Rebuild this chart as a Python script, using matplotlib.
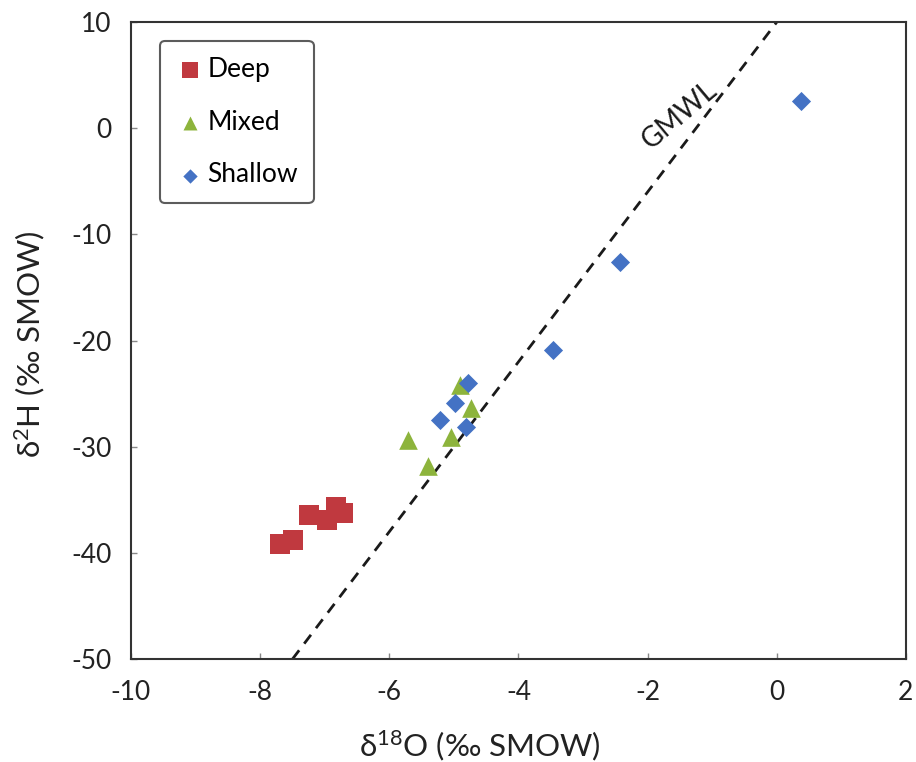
import matplotlib
matplotlib.use("Agg")
import matplotlib.pyplot as plt
import numpy as np

plt.rcParams['font.family'] = ['Lato', 'DejaVu Sans']
plt.rcParams['mathtext.fontset'] = 'custom'
plt.rcParams['mathtext.rm'] = 'Lato'
plt.rcParams['axes.unicode_minus'] = False

# Isotope data (per mil vs SMOW)
deep_o = [-7.69, -7.49, -7.24, -6.96, -6.82, -6.71]
deep_h = [-39.2, -38.8, -36.4, -36.9, -35.7, -36.2]

mixed_o = [-5.71, -5.40, -5.05, -4.90, -4.74]
mixed_h = [-29.4, -31.8, -29.1, -24.2, -26.3]

shallow_o = [-4.78, -4.98, -5.21, -4.82, -3.47, -2.42, 0.37]
shallow_h = [-24.0, -25.9, -27.5, -28.1, -20.9, -12.6, 2.6]

# Global Meteoric Water Line: d2H = 8 * d18O + 10
gmwl_slope = 8.0
gmwl_intercept = 10.0

x_ticks = [-10, -8, -6, -4, -2, 0, 2]
y_ticks = [-50, -40, -30, -20, -10, 0, 10]

fig = plt.figure(figsize=(9.16, 7.62), dpi=100)
ax = fig.add_axes([0.143, 0.135, 0.846, 0.836])

gx = np.array([-7.5, 0.0])
ax.plot(gx, gmwl_slope * gx + gmwl_intercept, color='#1a1a1a', lw=2.0,
        linestyle=(0, (4, 3)), zorder=2)

ax.scatter(deep_o, deep_h, marker='s', s=210, color='#c0393f', label='Deep',
           zorder=3, linewidths=0)
ax.scatter(mixed_o, mixed_h, marker='^', s=180, color='#8db43c', label='Mixed',
           zorder=3, linewidths=0)
ax.scatter(shallow_o, shallow_h, marker='D', s=95, color='#4472c4',
           label='Shallow', zorder=4, linewidths=0)

# Label along the GMWL
p1 = ax.transData.transform((0, 10))
p0 = ax.transData.transform((-7.5, -50))
ang = np.degrees(np.arctan2(p1[1] - p0[1], p1[0] - p0[0]))
ax.text(-1.5, 1.2, 'GMWL', rotation=ang, rotation_mode='anchor',
        ha='center', va='center', fontsize=20, color='#1a1a1a')

ax.set_xlim(-10, 2)
ax.set_ylim(-50, 10)
ax.set_xticks(x_ticks)
ax.set_yticks(y_ticks)
ax.tick_params(direction='in', length=4, width=1, color='#888888',
               labelsize=19, labelcolor='#222222')
ax.tick_params(axis='x', pad=15)
ax.tick_params(axis='y', pad=14)
for s in ax.spines.values():
    s.set_color('#333333')
    s.set_linewidth(1.5)

ax.set_xlabel(r'$\mathregular{\delta^{18}}$O (‰ SMOW)', fontsize=22.5,
              color='#222222')
ax.set_ylabel(r'$\mathregular{\delta^{2}}$H (‰ SMOW)', fontsize=22.5,
              color='#222222')
ax.xaxis.set_label_coords(0.45, -0.108)
ax.yaxis.set_label_coords(-0.108, 0.495)

leg = ax.legend(loc='upper left', bbox_to_anchor=(0.037, 0.97), fontsize=19,
                frameon=True, fancybox=True, edgecolor='#333333',
                handletextpad=0.1, labelspacing=1.05, borderpad=0.6,
                handlelength=1.1, markerscale=0.75, borderaxespad=0)
leg.get_frame().set_linewidth(1.5)

fig.savefig('out.png', dpi=100)
